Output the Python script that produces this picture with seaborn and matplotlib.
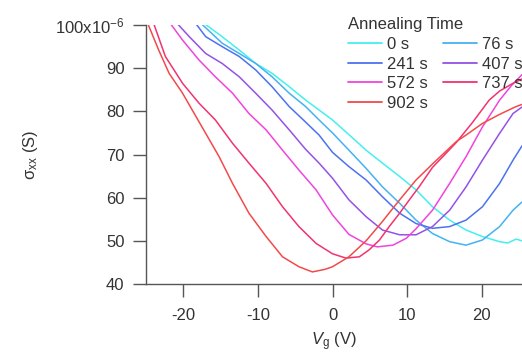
import matplotlib
matplotlib.use("Agg")
import matplotlib.pyplot as plt
from matplotlib.lines import Line2D
import seaborn as sns
import pandas as pd

# Gate voltage (V) and conductivity (units of 1e-6 S) for each annealing time
v_0 = [-17.3, -14.8, -12.5, -10.3, -8.1, -5.8, -3.6, -1.8, 0, 2.2, 4.5, 6.7, 9, 11.2, 13.4, 15.7, 17.9, 20.1, 22.4, 23.5, 24.6, 25.4]
s_0 = [100.5, 97.3, 94.2, 91.1, 88.8, 85.7, 82.6, 80.3, 78.0, 74.6, 71.0, 68.0, 64.9, 61.8, 57.9, 54.8, 52.5, 51.0, 49.8, 49.5, 50.4, 50.0]

v_76 = [-17.7, -14.8, -12.5, -10.3, -8.1, -5.8, -3.6, -1.8, 0, 2.2, 4.5, 6.7, 9, 11.2, 13.4, 15.7, 17.9, 20.1, 22.4, 24.2, 25.4]
s_76 = [100.5, 95.8, 93.4, 91.1, 88.0, 84.2, 81.1, 78.0, 75.0, 71.0, 66.8, 62.5, 58.7, 54.8, 51.7, 49.8, 49.0, 50.2, 53.3, 57.1, 59.0]

v_241 = [-18.4, -17, -14.8, -12.5, -10.3, -8.1, -5.8, -3.6, -1.8, 0, 2.2, 4.5, 6.7, 9, 11.2, 13.4, 15.7, 17.9, 20.1, 22.4, 24.2, 25.4]
s_241 = [100.5, 97.3, 95.0, 92.7, 89.6, 85.7, 81.1, 77.5, 74.5, 70.5, 67.2, 64.1, 60.2, 56.4, 54.0, 52.9, 53.3, 54.8, 57.9, 63.3, 68.7, 72.0]

v_407 = [-20.9, -19.2, -17, -14.8, -12.5, -10.3, -8.1, -5.8, -3.6, -1.8, 0, 2.2, 4.5, 6.7, 9, 11.2, 13.4, 15.7, 17.9, 20.1, 22.4, 24.2, 25.4]
s_407 = [100.5, 97.3, 93.4, 91.1, 88.0, 84.2, 80.3, 75.7, 71.2, 68.0, 64.5, 59.5, 55.6, 52.5, 51.4, 51.4, 53.3, 57.1, 62.5, 68.7, 74.9, 79.5, 81.0]

v_572 = [-21.8, -20.1, -17.9, -15.7, -13.4, -11.2, -8.9, -6.7, -4.5, -2.2, 0, 2.2, 4.5, 6.0, 8.1, 9.9, 11.2, 13.4, 15.7, 17.9, 20.1, 22.4, 24.0, 25.4]
s_572 = [100.5, 96.5, 91.9, 88.0, 84.2, 79.5, 75.7, 71.0, 66.4, 61.8, 56.0, 51.5, 49.3, 48.6, 49.0, 50.6, 52.8, 57.1, 63.3, 69.5, 76.4, 82.6, 86.0, 88.5]

v_737 = [-24.0, -22.4, -20.1, -17.9, -15.7, -13.4, -11.2, -8.9, -6.7, -4.5, -2.2, 0, 1.8, 3.6, 4.9, 6.3, 7.6, 9, 10.3, 11.6, 13.4, 16.6, 18.8, 21.0, 22.4, 24.2, 25.4]
s_737 = [100.5, 92.7, 86.5, 81.9, 78.0, 72.6, 68.0, 63.3, 57.9, 53.3, 49.4, 47.0, 46.0, 46.3, 47.9, 50.2, 53.3, 56.4, 59.5, 62.5, 67.0, 72.8, 77.5, 82.6, 84.7, 86.5, 87.5]

v_902 = [-24.8, -23.3, -21.9, -20.1, -18.3, -17, -15.2, -13.4, -11.2, -8.9, -6.7, -4.5, -2.7, -1.0, 0, 2.2, 4.5, 6.7, 9, 11.2, 13.4, 16.6, 17.9, 20.1, 22.4, 24.6, 25.4]
s_902 = [100.5, 94.2, 88.8, 84.2, 78.8, 74.9, 69.5, 63.3, 56.4, 51.0, 46.3, 44.0, 42.8, 43.4, 44.0, 46.3, 50.0, 54.5, 59.5, 64.1, 67.8, 73.0, 74.5, 77.2, 79.3, 81.1, 81.6]

labels = ["0 s", "76 s", "241 s", "407 s", "572 s", "737 s", "902 s"]
colors = ["#45EFEF", "#45B2F2", "#4C72F0", "#9452E6", "#F044DC", "#F2336E", "#F24A4A"]
y_ticks = [40, 50, 60, 70, 80, 90, 100]
y_tick_labels = ["40", "50", "60", "70", "80", "90", r"100x10$^{-6}$"]
x_ticks = [-20, -10, 0, 10, 20]

series_v = [v_0, v_76, v_241, v_407, v_572, v_737, v_902]
series_s = [s_0, s_76, s_241, s_407, s_572, s_737, s_902]
rows = []
for lab, vv, ss in zip(labels, series_v, series_s):
    for v, s in zip(vv, ss):
        rows.append({"Vg": v, "sigma": s, "time": lab})
df = pd.DataFrame(rows)

sns.set_style("ticks")
plt.rcParams["font.family"] = ["Liberation Sans", "DejaVu Sans"]
plt.rcParams["mathtext.fontset"] = "custom"
plt.rcParams["mathtext.rm"] = "Liberation Sans"
plt.rcParams["mathtext.it"] = "Liberation Sans:italic"

fig = plt.figure(figsize=(5.22, 3.54), dpi=100)
ax = fig.add_axes([146 / 522, (354 - 284) / 354, 1 - 146 / 522, (284 - 25) / 354])

sns.lineplot(data=df, x="Vg", y="sigma", hue="time", hue_order=labels,
             palette=dict(zip(labels, colors)), estimator=None, sort=False,
             linewidth=1.1, legend=False, ax=ax)

ax.set_xlim(-25, 25.4)
ax.set_ylim(40, 100)
ax.set_xticks(x_ticks)
ax.set_xticklabels([str(t) for t in x_ticks])
ax.set_yticks(y_ticks)
ax.set_yticklabels(y_tick_labels)

for sp in ["top", "right"]:
    ax.spines[sp].set_visible(False)
for sp in ["left", "bottom"]:
    ax.spines[sp].set_color("#555555")
    ax.spines[sp].set_linewidth(1.0)

ax.tick_params(axis="both", direction="out", length=9.5, width=1.0,
               color="#555555", labelsize=12, labelcolor="#333333")
ax.tick_params(axis="x", pad=8)
ax.tick_params(axis="y", pad=6)

ax.set_xlabel(r"$V_{\mathrm{g}}$ (V)", fontsize=12, color="#333333", labelpad=5)
ax.set_ylabel(r"$\mathrm{\sigma}_{\mathrm{xx}}$ (S)", fontsize=12, color="#333333", labelpad=11)

order = [0, 2, 4, 6, 1, 3, 5]
handles = [Line2D([], [], color=colors[i], lw=1.3) for i in order]
leg = ax.legend(handles, [labels[i] for i in order], ncol=2, title="Annealing Time",
                frameon=False, fontsize=12, title_fontsize=12, alignment="left",
                loc="upper left", bbox_to_anchor=(0.538, 1.03), handlelength=2.0,
                handletextpad=0.35, columnspacing=0.9, labelspacing=0.28,
                borderaxespad=0.0, borderpad=0.0)
for t in leg.get_texts():
    t.set_color("#333333")
leg.get_title().set_color("#333333")

fig.savefig("out.png", dpi=100)
